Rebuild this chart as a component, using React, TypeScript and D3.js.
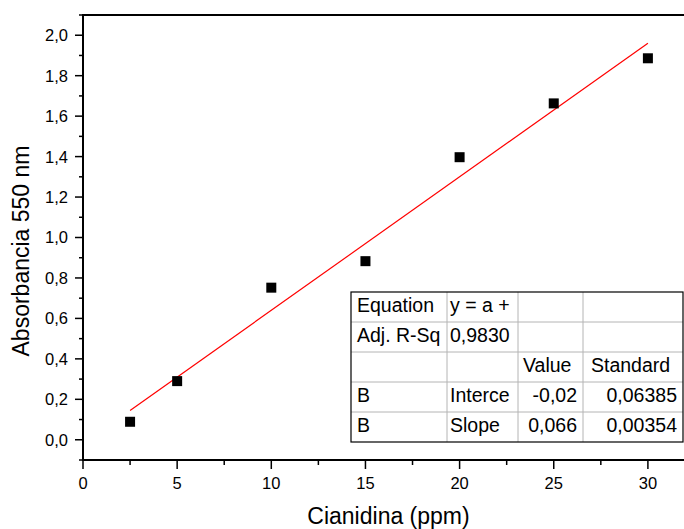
import React from "react";
import * as d3 from "d3";

const concentrations = [2.5, 5, 10, 15, 20, 25, 30];
const absorbances = [0.089, 0.29, 0.752, 0.883, 1.397, 1.663, 1.886];
const fitIntercept = -0.02;
const fitSlope = 0.066;
const xTicks = [0, 5, 10, 15, 20, 25, 30];
const xMinorTicks = [2.5, 7.5, 12.5, 17.5, 22.5, 27.5];
const yTicks = [0, 0.2, 0.4, 0.6, 0.8, 1.0, 1.2, 1.4, 1.6, 1.8, 2.0];
const yMinorTicks = [-0.1, 0.1, 0.3, 0.5, 0.7, 0.9, 1.1, 1.3, 1.5, 1.7, 1.9, 2.1];
const tableRows = [
  ["Equation", "y = a +", "", ""],
  ["Adj. R-Sq", "0,9830", "", ""],
  ["", "", "Value", "Standard"],
  ["B", "Interce", "-0,02", "0,06385"],
  ["B", "Slope", "0,066", "0,00354"],
];

const W = 684;
const H = 529;
const font = "'Liberation Sans', Arial, sans-serif";

export default function App() {
  const x = d3.scaleLinear().domain([0, 32]).range([83, 83 + 32 * 18.83]);
  const y = d3.scaleLinear().domain([-0.1, 2.1]).range([460, 15]);
  const fmt = (v: number) => d3.format(".1f")(v).replace(".", ",");
  const line = d3
    .line<number>()
    .x((d) => x(d))
    .y((d) => y(fitIntercept + fitSlope * d));
  const fitX = [concentrations[0], concentrations[concentrations.length - 1]];

  const tLeft = 351;
  const tTop = 292;
  const rowH = 30;
  const colX = [351, 447, 518, 583, 683];
  const tBottom = tTop + rowH * tableRows.length;

  return (
    <svg
      width={W}
      height={H}
      style={{ position: "absolute", left: 0, top: 0, background: "#fff" }}
      fontFamily={font}
    >
      <rect x={0} y={0} width={W} height={H} fill="#fff" />
      <path d={line(fitX) || ""} stroke="#ff0000" strokeWidth={1.2} fill="none" />
      {concentrations.map((c, i) => (
        <rect
          key={i}
          x={x(c) - 5}
          y={y(absorbances[i]) - 5}
          width={10}
          height={10}
          fill="#000"
        />
      ))}
      <line x1={83} x2={W} y1={15} y2={15} stroke="#000" strokeWidth={2} />
      <line x1={83} x2={W} y1={460} y2={460} stroke="#000" strokeWidth={2} />
      <line x1={83} x2={83} y1={14} y2={461} stroke="#000" strokeWidth={2} />
      {xTicks.map((t) => (
        <g key={"xt" + t}>
          <line x1={x(t)} x2={x(t)} y1={460} y2={469} stroke="#000" strokeWidth={1.5} />
          <text x={x(t)} y={488.5} fontSize={16.5} textAnchor="middle" fill="#000">
            {t}
          </text>
        </g>
      ))}
      {xMinorTicks.map((t) => (
        <line key={"xm" + t} x1={x(t)} x2={x(t)} y1={460} y2={465} stroke="#000" strokeWidth={1.5} />
      ))}
      {yTicks.map((t) => (
        <g key={"yt" + t}>
          <line x1={75} x2={83} y1={y(t)} y2={y(t)} stroke="#000" strokeWidth={1.5} />
          <text x={68} y={y(t)} dy="0.36em" fontSize={16.5} textAnchor="end" fill="#000">
            {fmt(t)}
          </text>
        </g>
      ))}
      {yMinorTicks.map((t) => (
        <line key={"ym" + t} x1={79} x2={83} y1={y(t)} y2={y(t)} stroke="#000" strokeWidth={1.5} />
      ))}
      <text x={388.5} y={524} fontSize={23} textAnchor="middle" fill="#000">
        Cianidina (ppm)
      </text>
      <text
        transform={`translate(29, 251) rotate(-90)`}
        fontSize={23}
        textAnchor="middle"
        fill="#000"
      >
        Absorbancia 550 nm
      </text>
      <rect x={tLeft} y={tTop} width={colX[4] - tLeft} height={tBottom - tTop} fill="#fff" />
      {tableRows.slice(1).map((_, i) => (
        <line
          key={"hr" + i}
          x1={tLeft}
          x2={colX[4]}
          y1={tTop + rowH * (i + 1)}
          y2={tTop + rowH * (i + 1)}
          stroke="#b4b4b4"
          strokeWidth={1}
        />
      ))}
      {colX.slice(1, 4).map((cx, i) => (
        <line key={"vc" + i} x1={cx} x2={cx} y1={tTop} y2={tBottom} stroke="#b4b4b4" strokeWidth={1} />
      ))}
      <rect
        x={tLeft}
        y={tTop}
        width={colX[4] - tLeft}
        height={tBottom - tTop}
        fill="none"
        stroke="#000"
        strokeWidth={1.2}
      />
      {tableRows.map((row, r) =>
        row.map((cell, c) => {
          if (!cell) return null;
          const isNum = r >= 3 && c >= 2;
          const by = tTop + rowH * r + 20;
          let tx = colX[c] + (c === 0 ? 6 : c === 1 ? 3 : c === 2 ? 5 : 8);
          let anchor: "start" | "end" = "start";
          if (isNum) {
            tx = colX[c + 1] - 6;
            anchor = "end";
          }
          return (
            <text key={r + "-" + c} x={tx} y={by} fontSize={19.5} textAnchor={anchor} fill="#000">
              {cell}
            </text>
          );
        })
      )}
    </svg>
  );
}
